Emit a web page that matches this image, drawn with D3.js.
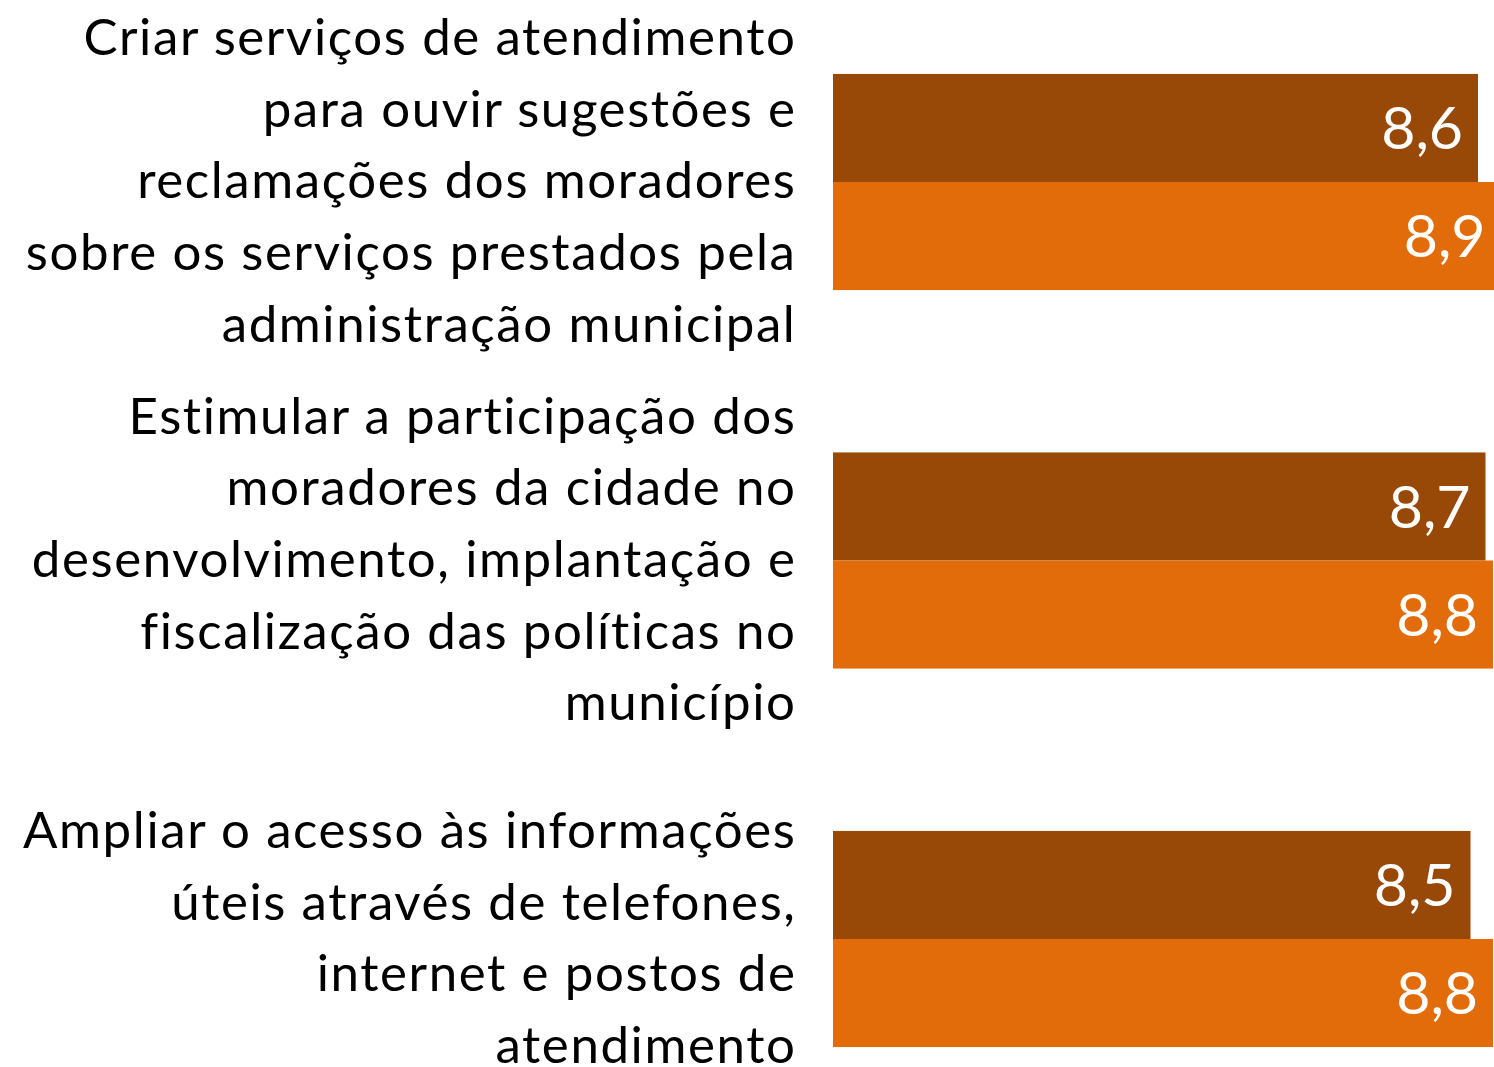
<!DOCTYPE html>
<html lang="pt-BR">
<head>
<meta charset="utf-8">
<script src="https://cdn.jsdelivr.net/npm/d3@7"></script>
<style>
  html, body { margin: 0; padding: 0; background: #fff; overflow: hidden; }
  svg { display: block; }
</style>
</head>
<body>
<svg id="chart" width="1494" height="1067"></svg>
<script>
// Categories (each label broken into its display lines)
const categories = [
  ["Criar serviços de atendimento", "para ouvir sugestões e", "reclamações dos moradores", "sobre os serviços prestados pela", "administração municipal"],
  ["Estimular a participação dos", "moradores da cidade no", "desenvolvimento, implantação e", "fiscalização das políticas no", "município"],
  ["Ampliar o acesso às informações", "úteis através de telefones,", "internet e postos de", "atendimento"]
];
const seriesNames = ["serieA", "serieB"];
const seriesA = [8.6, 8.7, 8.5];
const seriesB = [8.9, 8.8, 8.8];
const colors = ["#984807", "#E36C0A"];

const width = 1494, height = 1067;
const svg = d3.select("#chart");

const catIds = categories.map((_, i) => i);
const rows = catIds.map(i => ({ id: i, lines: categories[i], values: [seriesA[i], seriesB[i]] }));

// Horizontal value scale starting at zero; the bars run past the right edge
const x = d3.scaleLinear().domain([0, 10]).range([833, 1583]);

// Category bands and the two series inside each band
const y = d3.scaleBand().domain(catIds).range([-7.25, 1128.25])
  .paddingInner(0.429).paddingOuter(0.2145);
const ySub = d3.scaleBand().domain(seriesNames).range([0, y.bandwidth()]).padding(0);

const groups = svg.selectAll("g.cat").data(rows).join("g")
  .attr("class", "cat")
  .attr("transform", d => `translate(0,${y(d.id)})`);

const bars = groups.selectAll("g.bar")
  .data(d => d.values.map((v, k) => ({ v, k })))
  .join("g").attr("class", "bar");

bars.append("rect")
  .attr("x", x(0))
  .attr("y", d => ySub(seriesNames[d.k]))
  .attr("width", d => x(d.v) - x(0))
  .attr("height", ySub.bandwidth())
  .attr("fill", d => colors[d.k]);

const fmt = v => d3.format(".1f")(v).replace(".", ",");
bars.append("text")
  .attr("x", d => x(d.v) - 15)
  .attr("y", d => ySub(seriesNames[d.k]) + ySub.bandwidth() / 2)
  .attr("dy", "0.36em")
  .attr("text-anchor", "end")
  .attr("fill", "#fff")
  .style("font-family", "Lato, 'Open Sans', sans-serif")
  .style("font-size", "59px")
  .text(d => fmt(d.v));

// Category labels, right aligned, centred on each band
const lineH = 71.7;
const labelFont = 51;
groups.append("text")
  .attr("text-anchor", "end")
  .style("font-family", "Lato, 'Open Sans', sans-serif")
  .style("font-size", labelFont + "px")
  .style("letter-spacing", "1.6px")
  .attr("fill", "#000")
  .each(function (d) {
    const t = d3.select(this);
    const n = d.lines.length;
    d.lines.forEach((line, i) => {
      t.append("tspan")
        .attr("x", 796.5)
        .attr("y", y.bandwidth() / 2 + (i - (n - 1) / 2) * lineH + 16.4)
        .text(line);
    });
  });
</script>
</body>
</html>
